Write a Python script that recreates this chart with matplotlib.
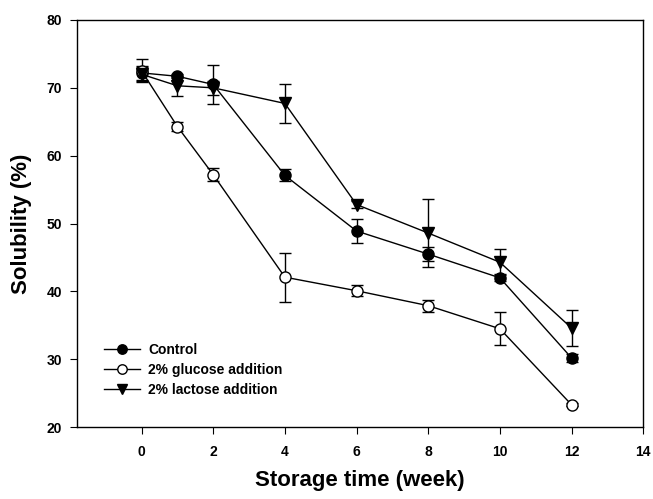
import matplotlib
matplotlib.use("Agg")
import matplotlib.pyplot as plt

plt.rcParams['font.family'] = ['Liberation Sans', 'DejaVu Sans']
plt.rcParams['font.weight'] = 'bold'

# storage time in weeks
weeks = [0, 1, 2, 4, 6, 8, 10, 12]

# solubility (%) and standard deviations
control = [72.2, 71.7, 70.5, 57.1, 48.9, 45.5, 42.0, 30.2]
control_err = [1.0, 0.3, 2.9, 0.9, 1.8, 1.0, 0.5, 0.6]

glucose = [72.5, 64.3, 57.2, 42.1, 40.1, 37.9, 34.5, 23.3]
glucose_err = [1.7, 0.6, 1.0, 3.6, 0.8, 0.9, 2.4, 0.2]

lactose = [72.0, 70.3, 70.0, 67.7, 52.8, 48.6, 44.3, 34.6]
lactose_err = [1.0, 1.5, 1.0, 2.9, 0.5, 5.0, 1.9, 2.7]

fig = plt.figure(figsize=(6.53, 4.99), dpi=100)
ax = fig.add_axes([0.118, 0.144, 0.867, 0.816])

common = dict(color='black', lw=1.0, ms=8, capsize=4, elinewidth=1.0,
              capthick=1.0, mec='black')
ax.errorbar(weeks, control, yerr=control_err, fmt='-o', mfc='black',
            label='Control', **common)
ax.errorbar(weeks, glucose, yerr=glucose_err, fmt='-o', mfc='white',
            label='2% glucose addition', **common)
ax.errorbar(weeks, lactose, yerr=lactose_err, fmt='-v', mfc='black',
            label='2% lactose addition', **common)

ax.set_xlim(-1.8, 14)
ax.set_ylim(20, 80)
ax.set_xticks([0, 2, 4, 6, 8, 10, 12, 14])
ax.set_yticks([20, 30, 40, 50, 60, 70, 80])
ax.tick_params(direction='out', length=5, pad=6, labelsize=10,
               top=False, right=False)
ax.tick_params(axis='x', pad=8)
for lbl in ax.get_xticklabels() + ax.get_yticklabels():
    lbl.set_fontweight('bold')
for sp in ax.spines.values():
    sp.set_linewidth(1.0)

ax.set_xlabel('Storage time (week)', fontsize=16, fontweight='bold', labelpad=8)
ax.set_ylabel('Solubility (%)', fontsize=16, fontweight='bold', labelpad=10)

handles, labels = ax.get_legend_handles_labels()
handles = [h[0] for h in handles]
ax.legend(handles, labels, loc='lower left', bbox_to_anchor=(0.025, 0.043),
          frameon=False, handlelength=2.6, labelspacing=0.45,
          handletextpad=0.6, markerscale=0.85,
          prop={'weight': 'bold', 'size': 10})

fig.savefig('out.png', dpi=100)
